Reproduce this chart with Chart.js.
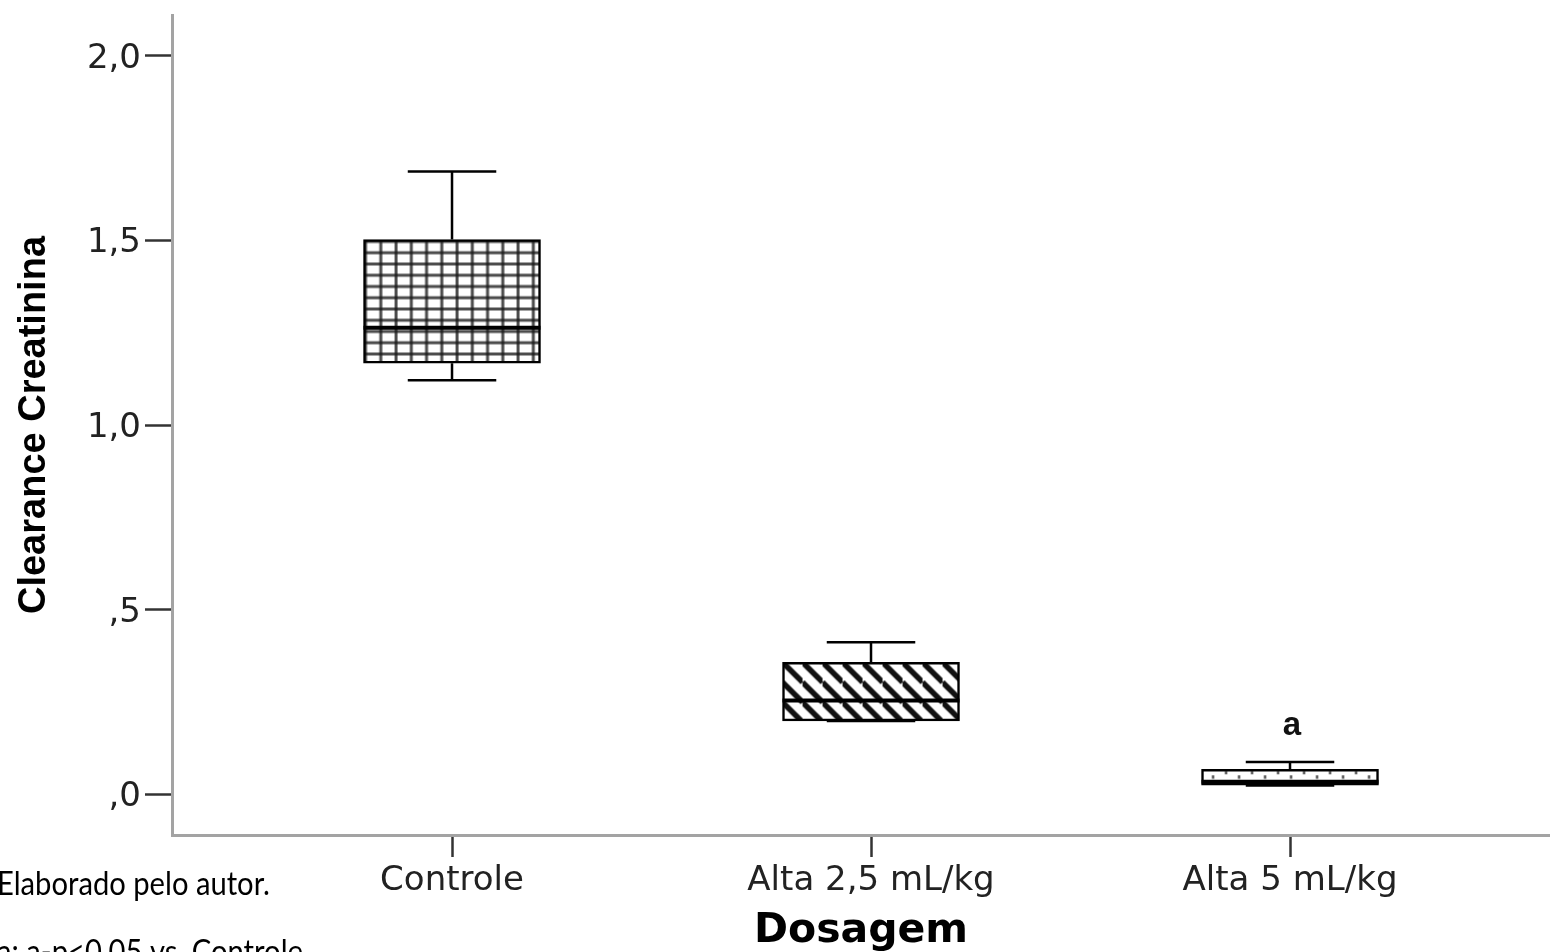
<!DOCTYPE html>
<html>
<head>
<meta charset="utf-8">
<script src="https://cdn.jsdelivr.net/npm/chart.js@4.4.0/dist/chart.umd.min.js"></script>
<style>
  html, body { margin: 0; padding: 0; background: #fff; overflow: hidden; }
</style>
</head>
<body>
<canvas id="grafico" width="1550" height="952"></canvas>
<script>
// === Dados ===
const grupos = ["Controle", "Alta 2,5 mL/kg", "Alta 5 mL/kg"];
const minimos = [1.122, 0.199, 0.024];
const quartil1 = [1.168, 0.199, 0.025];
const medianas = [1.264, 0.254, 0.034];
const quartil3 = [1.503, 0.358, 0.068];
const maximos = [1.687, 0.412, 0.088];
const marcas = ["", "", "a"];
const alturaMarca = [0, 0, 0.161];
const ticksY = [0, 0.5, 1, 1.5, 2];
const rotulosY = [",0", ",5", "1,0", "1,5", "2,0"];
const notas = ["Elaborado pelo autor.", "a: a-p<0,05 vs. Controle"];

const canvas = document.getElementById("grafico");
const ctx = canvas.getContext("2d");

// === Padrões de preenchimento ===
function tile(w, h) {
  const c = document.createElement("canvas");
  c.width = w; c.height = h;
  const g = c.getContext("2d");
  g.fillStyle = "#fff";
  g.fillRect(0, 0, w, h);
  return [c, g];
}

function padraoGrade() {
  const [c, g] = tile(61, 45);
  g.strokeStyle = "rgba(25,25,25,0.78)";
  g.lineWidth = 3;
  for (let k = 0; k < 4; k++) {
    const x = 2 + k * 15.25;
    g.beginPath(); g.moveTo(x, 0); g.lineTo(x, 45); g.stroke();
    const y = 2 + k * 11.25;
    g.beginPath(); g.moveTo(0, y); g.lineTo(61, y); g.stroke();
  }
  return ctx.createPattern(c, "repeat");
}

function padraoDiagonal() {
  const [c, g] = tile(20, 20);
  g.strokeStyle = "#111";
  g.lineWidth = 5.5;
  [-20, 0, 20].forEach(d => {
    g.beginPath(); g.moveTo(0, d); g.lineTo(20, d + 20); g.stroke();
  });
  return ctx.createPattern(c, "repeat");
}

function padraoPontos() {
  const [c, g] = tile(26, 14);
  g.fillStyle = "#333";
  g.fillRect(23.5, 1.5, 2, 3.5);
  g.fillRect(10.5, 6, 2, 3.5);
  return ctx.createPattern(c, "repeat");
}

// === Plugin: bigodes, medianas, letras e notas ===
function criarPlugin(padroes) {
  return {
    id: "boxplot",
    beforeDatasetsDraw(chart) {
      const meta = chart.getDatasetMeta(0);
      meta.data.forEach((bar, i) => {
        const left = bar.x - bar.width / 2;
        const top = Math.min(bar.y, bar.base);
        padroes[i].setTransform(new DOMMatrix([1, 0, 0, 1, left, top]));
      });
    },
    afterDatasetsDraw(chart) {
      const { ctx, scales } = chart;
      const meta = chart.getDatasetMeta(0);
      ctx.save();
      ctx.strokeStyle = "#000";
      meta.data.forEach((bar, i) => {
        const x = scales.x.getPixelForValue(i);
        const w = bar.width;
        const yMin = scales.y.getPixelForValue(minimos[i]);
        const yQ1 = scales.y.getPixelForValue(quartil1[i]);
        const yMed = scales.y.getPixelForValue(medianas[i]);
        const yQ3 = scales.y.getPixelForValue(quartil3[i]);
        const yMax = scales.y.getPixelForValue(maximos[i]);

        ctx.lineWidth = 2.5;
        ctx.beginPath();
        ctx.moveTo(x, yQ3); ctx.lineTo(x, yMax);
        ctx.moveTo(x - w / 4, yMax); ctx.lineTo(x + w / 4, yMax);
        ctx.moveTo(x, yQ1); ctx.lineTo(x, yMin);
        ctx.moveTo(x - w / 4, yMin); ctx.lineTo(x + w / 4, yMin);
        ctx.stroke();

        ctx.lineWidth = 4;
        ctx.beginPath();
        ctx.moveTo(x - w / 2, yMed); ctx.lineTo(x + w / 2, yMed);
        ctx.stroke();

        if (marcas[i]) {
          ctx.fillStyle = "#111";
          ctx.font = "bold 33px 'Liberation Sans', Arial, sans-serif";
          ctx.textAlign = "center";
          ctx.textBaseline = "alphabetic";
          ctx.fillText(marcas[i], x + 2, scales.y.getPixelForValue(alturaMarca[i]));
        }
      });
      ctx.restore();
    },
    afterDraw(chart) {
      const { ctx } = chart;
      const linhas = [
        { texto: notas[0], x: -3, y: 895, largura: 273 },
        { texto: notas[1], x: -3, y: 963, largura: 306 }
      ];
      ctx.save();
      ctx.fillStyle = "#000";
      ctx.font = "32px Lato, 'Open Sans', sans-serif";
      ctx.textAlign = "left";
      ctx.textBaseline = "alphabetic";
      linhas.forEach(l => {
        const m = ctx.measureText(l.texto).width;
        ctx.save();
        ctx.translate(l.x, l.y);
        ctx.scale(l.largura / m, 1);
        ctx.fillText(l.texto, 0, 0);
        ctx.restore();
      });
      ctx.restore();
    }
  };
}

function desenhar() {
  const padroes = [padraoGrade(), padraoDiagonal(), padraoPontos()];
  const fonteTick = { family: "'DejaVu Sans'", size: 34 };

  new Chart(canvas, {
    type: "bar",
    data: {
      datasets: [{
        data: grupos.map((g, i) => ({ x: i, y: [quartil1[i], quartil3[i]] })),
        backgroundColor: padroes,
        borderColor: "#000",
        borderWidth: 2.5,
        borderSkipped: false,
        barThickness: 177
      }]
    },
    options: {
      responsive: false,
      animation: false,
      layout: { padding: { top: 15, right: 0, left: 0, bottom: 0 } },
      plugins: { legend: { display: false }, tooltip: { enabled: false } },
      scales: {
        x: {
          type: "linear",
          min: -0.6683,
          max: 2.6205,
          offset: false,
          afterBuildTicks: s => { s.ticks = grupos.map((g, i) => ({ value: i })); },
          afterFit: s => { s.height = 117; s.paddingLeft = 0; s.paddingRight = 0; },
          ticks: {
            autoSkip: false,
            maxRotation: 0,
            padding: 4,
            color: "#222",
            font: fonteTick,
            callback: (v, i) => grupos[i]
          },
          grid: { offset: false, drawOnChartArea: false, drawTicks: true, tickLength: 22, tickColor: "#333", tickWidth: 2.5 },
          border: { display: true, color: "#a3a3a3", width: 3 },
          title: {
            display: true,
            text: "Dosagem",
            color: "#000",
            font: { family: "'DejaVu Sans'", weight: "bold", size: 41, lineHeight: 1 },
            padding: 0
          }
        },
        y: {
          type: "linear",
          min: -0.110,
          max: 2.111,
          afterBuildTicks: s => { s.ticks = ticksY.map(v => ({ value: v })); },
          afterFit: s => { s.width = 172; s.paddingTop = 0; s.paddingBottom = 0; },
          ticks: {
            padding: 4,
            labelOffset: 3,
            color: "#222",
            font: fonteTick,
            callback: (v, i) => rotulosY[i]
          },
          grid: { drawOnChartArea: false, drawTicks: true, tickLength: 27, tickColor: "#333", tickWidth: 2.5 },
          border: { display: true, color: "#a3a3a3", width: 3 },
          title: {
            display: true,
            text: "Clearance Creatinina",
            color: "#000",
            font: { family: "'Liberation Sans'", weight: "bold", size: 38, lineHeight: 1 },
            padding: { top: 16, bottom: 0 }
          }
        }
      }
    },
    plugins: [criarPlugin(padroes)]
  });
}

// esperar as fontes antes de desenhar no canvas
Promise.all([
  document.fonts.load("32px Lato"),
  document.fonts.load("bold 33px 'Liberation Sans'"),
  document.fonts.load("bold 38px 'Liberation Sans'"),
  document.fonts.load("34px 'DejaVu Sans'"),
  document.fonts.load("bold 41px 'DejaVu Sans'")
]).catch(() => {}).then(desenhar);
</script>
</body>
</html>
